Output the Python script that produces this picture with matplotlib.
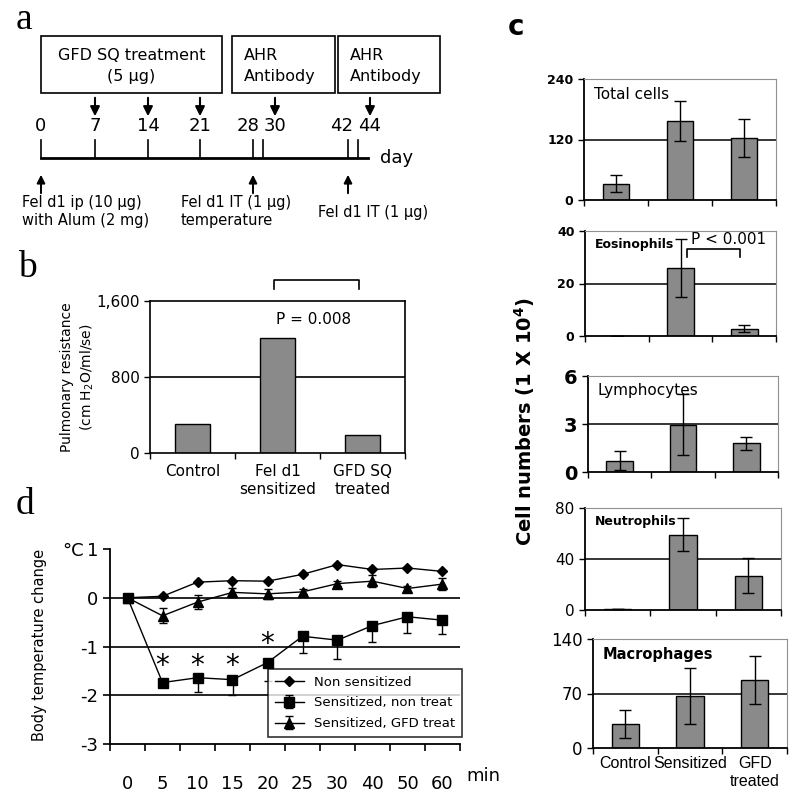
import numpy as np
import matplotlib.pyplot as plt

# panel a: schedule (days and where they sit on the schematic line)
days = [0, 7, 14, 21, 28, 30, 42, 44]
day_tick_px = [41, 95, 148, 200, 253, 263, 348, 358]
day_label_px = [41, 95, 148, 200, 248, 275, 342, 370]
treat_days = [7, 14, 21]
ahr_days = [30, 44]
challenge_days = [0, 28, 42]

# panel b: pulmonary resistance
groups_b = ['Control', 'Fel d1\nsensitized', 'GFD SQ\ntreated']
resistance = [305, 1210, 190]

# panel c: BAL cell counts (1 x 10^4)
groups_c = ['Control', 'Sensitized', 'GFD\ntreated']
total_cells = [32, 157, 123]
total_err = [17, 40, 38]
eosinophils = [0, 26, 2.7]
eos_err = [0, 11, 1.3]
lymphocytes = [0.7, 2.95, 1.8]
lymph_err = [0.6, 1.9, 0.4]
neutrophils = [1, 59, 27]
neut_err = [0, 13, 14]
macrophages = [31, 67, 87]
macro_err = [18, 36, 31]

# panel d: body temperature change
time_labels = ['0', '5', '10', '15', '20', '25', '30', '40', '50', '60']
non_sens = [0, 0.03, 0.32, 0.35, 0.34, 0.48, 0.68, 0.58, 0.61, 0.54]
sens_non = [0, -1.74, -1.64, -1.68, -1.33, -0.79, -0.87, -0.57, -0.39, -0.46]
sens_non_err = [0, 0.05, 0.29, 0.32, 0.38, 0.34, 0.39, 0.34, 0.34, 0.28]
sens_gfd = [0, -0.37, -0.09, 0.11, 0.08, 0.12, 0.29, 0.34, 0.19, 0.28]
sens_gfd_err = [0, 0.15, 0.15, 0.1, 0.1, 0.05, 0.05, 0.12, 0.06, 0.12]
star_idx = [1, 2, 3, 4]
star_y = [-1.4, -1.4, -1.4, -0.95]

W = 800
fig = plt.figure(figsize=(8, 8), dpi=100)


def px_axes(x0, y0, x1, y1):
    return fig.add_axes([x0 / W, 1 - y1 / W, (x1 - x0) / W, (y1 - y0) / W])


def letter(x, y, s, **kw):
    fig.text(x / W, 1 - y / W, s, ha='left', va='center', **kw)


# ---------------- a ----------------
ax_a = px_axes(0, 0, 460, 232)
ax_a.set_xlim(0, 460)
ax_a.set_ylim(232, 0)
ax_a.axis('off')
boxes = [(41, 222, ['GFD SQ treatment', '(5 \u03bcg)'], 'center'),
         (232, 335, ['AHR', 'Antibody'], 'left'),
         (338, 440, ['AHR', 'Antibody'], 'left')]
for x0, x1, txt, ha in boxes:
    ax_a.add_patch(plt.Rectangle((x0, 36), x1 - x0, 57, fill=False, ec='k', lw=1.2))
    tx = (x0 + x1) / 2 if ha == 'center' else x0 + 12
    ax_a.text(tx, 55, txt[0], ha=ha, va='center', fontsize=11.5)
    ax_a.text(tx, 77, txt[1], ha=ha, va='center', fontsize=11.5)

ax_a.plot([41, 368], [158, 158], color='k', lw=2)
for d, xt, xl in zip(days, day_tick_px, day_label_px):
    ax_a.plot([xt, xt], [140, 158], color='k', lw=1.2)
    ax_a.text(xl, 126, str(d), ha='center', va='center', fontsize=13)
    if d in treat_days:
        ax_a.annotate('', xy=(xt, 119), xytext=(xt, 95),
                      arrowprops=dict(arrowstyle='-|>', color='k', lw=1.5, mutation_scale=14))
    if d in ahr_days:
        ax_a.annotate('', xy=(xl, 119), xytext=(xl, 95),
                      arrowprops=dict(arrowstyle='-|>', color='k', lw=1.5, mutation_scale=14))
    if d in challenge_days:
        ax_a.annotate('', xy=(xt, 172), xytext=(xt, 196),
                      arrowprops=dict(arrowstyle='-|>', color='k', lw=1.4, mutation_scale=12))
ax_a.text(380, 158, 'day', ha='left', va='center', fontsize=13)
ax_a.text(22, 203, 'Fel d1 ip (10 \u03bcg)', ha='left', va='center', fontsize=10.5)
ax_a.text(22, 220, 'with Alum (2 mg)', ha='left', va='center', fontsize=10.5)
ax_a.text(181, 203, 'Fel d1 IT (1 \u03bcg)', ha='left', va='center', fontsize=10.5)
ax_a.text(181, 220, 'temperature', ha='left', va='center', fontsize=10.5)
ax_a.text(318, 213, 'Fel d1 IT (1 \u03bcg)', ha='left', va='center', fontsize=10.5)

# ---------------- b ----------------
ax_b = px_axes(150, 301, 405, 453)
ax_b.bar(range(3), resistance, width=0.41, color='#8a8a8a', edgecolor='k', lw=1, zorder=2)
ax_b.axhline(800, color='k', lw=1.2, zorder=1)
ax_b.set_xlim(-0.5, 2.5)
ax_b.set_ylim(0, 1600)
ax_b.set_yticks([0, 800, 1600], ['0', '800', '1,600'], fontsize=11)
ax_b.set_xticks([-0.5, 0.5, 1.5, 2.5], [])
ax_b.set_xticks([0, 1, 2], groups_b, minor=True, fontsize=11)
ax_b.tick_params(which='minor', length=0, pad=8)
ax_b.tick_params(which='major', length=4, width=1)
for s in ax_b.spines.values():
    s.set_linewidth(1.2)
ax_b.plot([0.96, 0.96, 1.96, 1.96], [1726, 1821, 1821, 1726], color='k', lw=1.2, clip_on=False)
ax_b.text(1.42, 1400, 'P = 0.008', ha='center', va='center', fontsize=11)
fig.text(78 / W, 1 - 377 / W, 'Pulmonary resistance\n' + r'(cm H$_2$O/ml/se)',
         rotation=90, ha='center', va='center', fontsize=10, linespacing=1.3)

# ---------------- c ----------------
c_specs = [
    ((584, 79, 776, 200), total_cells, total_err, 240, ['0', '120', '240'], 'Total cells', 'bold', 9, 'normal', 11),
    ((585, 231, 776, 336), eosinophils, eos_err, 40, ['0', '20', '40'], 'Eosinophils', 'bold', 9, 'bold', 9),
    ((588, 376, 778, 472), lymphocytes, lymph_err, 6, ['0', '3', '6'], 'Lymphocytes', 'bold', 14, 'normal', 11),
    ((585, 508, 781, 610), neutrophils, neut_err, 80, ['0', '40', '80'], 'Neutrophils', 'normal', 11, 'bold', 9),
    ((593, 639, 787, 748), macrophages, macro_err, 140, ['0', '70', '140'], 'Macrophages', 'normal', 12, 'bold', 10.5),
]
for i, (rect, vals, errs, top, ylabs, name, tw, tsize, nw, nsize) in enumerate(c_specs):
    ax = px_axes(*rect)
    ax.bar(range(3), vals, width=0.42, color='#8a8a8a', edgecolor='k', lw=1, zorder=2)
    ax.errorbar(range(3), vals, yerr=errs, fmt='none', ecolor='k', elinewidth=1, capsize=4, zorder=3)
    ax.axhline(top / 2, color='k', lw=1.1, zorder=1)
    ax.set_xlim(-0.5, 2.5)
    ax.set_ylim(0, top)
    ax.set_yticks([0, top / 2, top], ylabs, fontsize=tsize, fontweight=tw)
    ax.set_xticks([-0.5, 0.5, 1.5, 2.5], [])
    ax.tick_params(length=4, width=1)
    ax.spines['top'].set_color('#909090')
    ax.spines['right'].set_color('#909090')
    ax.spines['left'].set_linewidth(1.3)
    ax.spines['bottom'].set_linewidth(1.3)
    ax.text(0.05, 0.93, name, transform=ax.transAxes, ha='left', va='top',
            fontsize=nsize, fontweight=nw)
    if i == 4:
        ax.set_xticks([0, 1, 2], groups_c, minor=True, fontsize=11.5, family='Liberation Sans')
        ax.tick_params(which='minor', length=0, pad=6)
    if i == 1:
        ax.plot([1.1, 1.1, 1.93, 1.93], [30, 33, 33, 30], color='k', lw=1.2)
        ax.text(1.75, 36.6, 'P < 0.001', ha='center', va='center', fontsize=11)

fig.text(525 / W, 1 - 422 / W, 'Cell numbers (1 X 10$^\\mathbf{4}$)', rotation=90,
         ha='center', va='center', fontsize=14, fontweight='bold')

# ---------------- d ----------------
ax_d = px_axes(110, 549, 460, 744)
x = np.arange(len(time_labels))
for yv in [0, -1, -2]:
    ax_d.axhline(yv, color='k', lw=1.2, zorder=1)
ax_d.plot(x, non_sens, color='k', lw=1, marker='D', ms=5.5, label='Non sensitized', zorder=4)
ax_d.errorbar(x, sens_non, yerr=[sens_non_err, np.zeros(len(x))], color='k', lw=1,
              marker='s', ms=7, capsize=3, elinewidth=1, label='Sensitized, non treat', zorder=4)
ax_d.errorbar(x, sens_gfd, yerr=sens_gfd_err, color='k', lw=1, marker='^', ms=7,
              capsize=3, elinewidth=1, label='Sensitized, GFD treat', zorder=4)
for xi, yi in zip(star_idx, star_y):
    ax_d.text(xi, yi, '*', ha='center', va='center', fontsize=20)
ax_d.set_xlim(-0.5, len(x) - 0.5)
ax_d.set_ylim(-3, 1)
ax_d.set_yticks([-3, -2, -1, 0, 1], ['-3', '-2', '-1', '0', '1'], fontsize=13)
ax_d.set_xticks(np.arange(len(x) + 1) - 0.5, [])
ax_d.set_xticks(x, time_labels, minor=True, fontsize=13)
ax_d.tick_params(which='minor', length=0, pad=22)
ax_d.tick_params(which='major', length=5, width=1.2)
ax_d.spines['top'].set_visible(False)
ax_d.spines['right'].set_visible(False)
ax_d.spines['left'].set_linewidth(1.3)
ax_d.spines['bottom'].set_linewidth(1.3)
leg = ax_d.legend(loc='lower right', bbox_to_anchor=(1.006, 0.036), borderaxespad=0,
                  fontsize=9.5, frameon=True, fancybox=False, edgecolor='k',
                  handlelength=2.2, labelspacing=0.6, borderpad=0.5)
leg.get_frame().set_linewidth(1.2)
leg.set_zorder(10)
fig.text(62 / W, 1 - 551 / W, '\u00b0C', ha='left', va='center', fontsize=13)
fig.text(40 / W, 1 - 645 / W, 'Body temperature change', rotation=90,
         ha='center', va='center', fontsize=10.5)
fig.text(466 / W, 1 - 776 / W, 'min', ha='left', va='center', fontsize=13)

# panel letters
letter(16, 20, 'a', fontsize=27, family='Liberation Serif')
letter(18, 268, 'b', fontsize=27, family='Liberation Serif')
letter(16, 505, 'd', fontsize=27, family='Liberation Serif')
letter(508, 27, 'c', fontsize=20, fontweight='bold')

fig.savefig('out.png', dpi=100)
